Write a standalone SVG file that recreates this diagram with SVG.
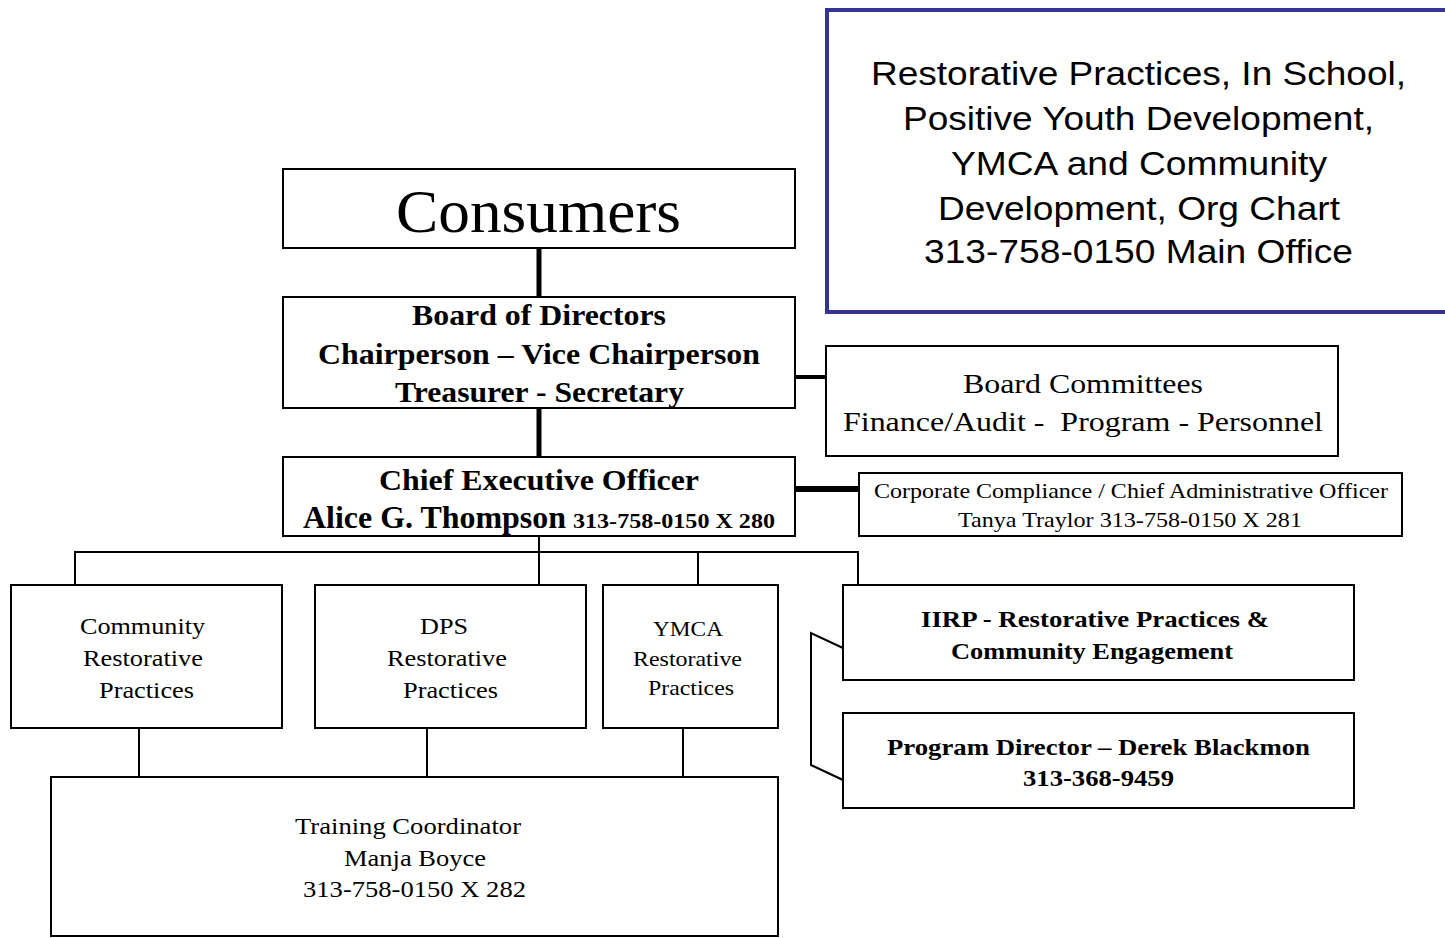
<svg xmlns="http://www.w3.org/2000/svg" width="1445" height="938" viewBox="0 0 1445 938">
<style>
.box{fill:#fff;stroke:#000;stroke-width:2}
.s{font-family:"Liberation Serif","Times New Roman",serif;fill:#000;text-anchor:middle}
.b{font-weight:bold}
.a{font-family:"Liberation Sans",Arial,sans-serif;fill:#000;text-anchor:middle;font-size:34px}
.thin{stroke:#000;stroke-width:2;fill:none}
.thick{stroke:#000;stroke-width:5;fill:none}
</style>
<rect width="1445" height="938" fill="#fff"/>
<g id="connectors">
<line class="thick" x1="539" y1="248" x2="539" y2="297"/>
<line class="thick" x1="539" y1="408" x2="539" y2="457"/>
<line class="thick" x1="795" y1="377" x2="826" y2="377" style="stroke-width:4"/>
<line class="thick" x1="795" y1="489" x2="859" y2="489" style="stroke-width:6"/>
<polyline class="thin" points="539,536 539,552"/>
<polyline class="thin" points="75,585 75,552 858,552 858,585"/>
<line class="thin" x1="539" y1="552" x2="539" y2="585"/>
<line class="thin" x1="698" y1="552" x2="698" y2="585"/>
<line class="thin" x1="139" y1="728" x2="139" y2="777"/>
<line class="thin" x1="427" y1="728" x2="427" y2="777"/>
<line class="thin" x1="683" y1="728" x2="683" y2="777"/>
<polyline class="thin" points="843,648 811,633 811,765 843,780"/>
</g>
<g id="title">
<rect x="827" y="10" width="630" height="302" fill="#fff" stroke="#333399" stroke-width="4"/>
<text class="a" x="1138.5" y="85" textLength="535" lengthAdjust="spacingAndGlyphs">Restorative Practices, In School,</text>
<text class="a" x="1138.5" y="130" textLength="471" lengthAdjust="spacingAndGlyphs">Positive Youth Development,</text>
<text class="a" x="1139" y="175" textLength="376" lengthAdjust="spacingAndGlyphs">YMCA and Community</text>
<text class="a" x="1139" y="220" textLength="402" lengthAdjust="spacingAndGlyphs">Development, Org Chart</text>
<text class="a" x="1138.5" y="263" textLength="429" lengthAdjust="spacingAndGlyphs">313-758-0150 Main Office</text>
</g>
<g id="consumers">
<rect class="box" x="283" y="169" width="512" height="79"/>
<text class="s" x="538.5" y="232" font-size="62" textLength="285" lengthAdjust="spacingAndGlyphs">Consumers</text>
</g>
<g id="board">
<rect class="box" x="283" y="297" width="512" height="111"/>
<text class="s b" x="539" y="325" font-size="29" textLength="254" lengthAdjust="spacingAndGlyphs">Board of Directors</text>
<text class="s b" x="539" y="364" font-size="29" textLength="442" lengthAdjust="spacingAndGlyphs">Chairperson – Vice Chairperson</text>
<text class="s b" x="539.5" y="402" font-size="29" textLength="289" lengthAdjust="spacingAndGlyphs">Treasurer - Secretary</text>
</g>
<g id="committees">
<rect class="box" x="826" y="346" width="512" height="110"/>
<text class="s" x="1083" y="393" font-size="28" textLength="240" lengthAdjust="spacingAndGlyphs">Board Committees</text>
<text class="s" x="1083" y="431" font-size="28" xml:space="preserve" textLength="480" lengthAdjust="spacingAndGlyphs">Finance/Audit -  Program - Personnel</text>
</g>
<g id="ceo">
<rect class="box" x="283" y="457" width="512" height="79"/>
<text class="s b" x="539" y="490" font-size="30" textLength="320" lengthAdjust="spacingAndGlyphs">Chief Executive Officer</text>
<text class="s b" x="303" y="528" font-size="31" style="text-anchor:start" textLength="263" lengthAdjust="spacingAndGlyphs">Alice G. Thompson</text>
<text class="s b" x="573" y="528" font-size="22" style="text-anchor:start" textLength="202" lengthAdjust="spacingAndGlyphs">313-758-0150 X 280</text>
</g>
<g id="compliance">
<rect class="box" x="859" y="473" width="543" height="63"/>
<text class="s" x="1131" y="498" font-size="21" textLength="514" lengthAdjust="spacingAndGlyphs">Corporate Compliance / Chief Administrative Officer</text>
<text class="s" x="1130" y="527" font-size="21" textLength="344" lengthAdjust="spacingAndGlyphs">Tanya Traylor 313-758-0150 X 281</text>
</g>
<g id="community">
<rect class="box" x="11" y="585" width="271" height="143"/>
<text class="s" x="142.5" y="634" font-size="24" textLength="125" lengthAdjust="spacingAndGlyphs">Community</text>
<text class="s" x="143" y="666" font-size="24" textLength="120" lengthAdjust="spacingAndGlyphs">Restorative</text>
<text class="s" x="146.5" y="698" font-size="24" textLength="95" lengthAdjust="spacingAndGlyphs">Practices</text>
</g>
<g id="dps">
<rect class="box" x="315" y="585" width="271" height="143"/>
<text class="s" x="444" y="634" font-size="24" textLength="48" lengthAdjust="spacingAndGlyphs">DPS</text>
<text class="s" x="447" y="666" font-size="24" textLength="120" lengthAdjust="spacingAndGlyphs">Restorative</text>
<text class="s" x="450.5" y="698" font-size="24" textLength="95" lengthAdjust="spacingAndGlyphs">Practices</text>
</g>
<g id="ymca">
<rect class="box" x="603" y="585" width="175" height="143"/>
<text class="s" x="688" y="636" font-size="22" textLength="70" lengthAdjust="spacingAndGlyphs">YMCA</text>
<text class="s" x="687.5" y="666" font-size="22" textLength="109" lengthAdjust="spacingAndGlyphs">Restorative</text>
<text class="s" x="691" y="695" font-size="22" textLength="86" lengthAdjust="spacingAndGlyphs">Practices</text>
</g>
<g id="iirp">
<rect class="box" x="843" y="585" width="511" height="95"/>
<text class="s b" x="1095" y="627" font-size="24" textLength="348" lengthAdjust="spacingAndGlyphs">IIRP - Restorative Practices &amp;</text>
<text class="s b" x="1092" y="659" font-size="24" textLength="282" lengthAdjust="spacingAndGlyphs">Community Engagement</text>
</g>
<g id="director">
<rect class="box" x="843" y="713" width="511" height="95"/>
<text class="s b" x="1098.5" y="755" font-size="24" textLength="423" lengthAdjust="spacingAndGlyphs">Program Director – Derek Blackmon</text>
<text class="s b" x="1098.5" y="786" font-size="24" textLength="151" lengthAdjust="spacingAndGlyphs">313-368-9459</text>
</g>
<g id="training">
<rect class="box" x="51" y="777" width="727" height="159"/>
<text class="s" x="408" y="834" font-size="24" textLength="226" lengthAdjust="spacingAndGlyphs">Training Coordinator</text>
<text class="s" x="415" y="866" font-size="24" textLength="142" lengthAdjust="spacingAndGlyphs">Manja Boyce</text>
<text class="s" x="414.5" y="897" font-size="24" textLength="223" lengthAdjust="spacingAndGlyphs">313-758-0150 X 282</text>
</g>
</svg>
